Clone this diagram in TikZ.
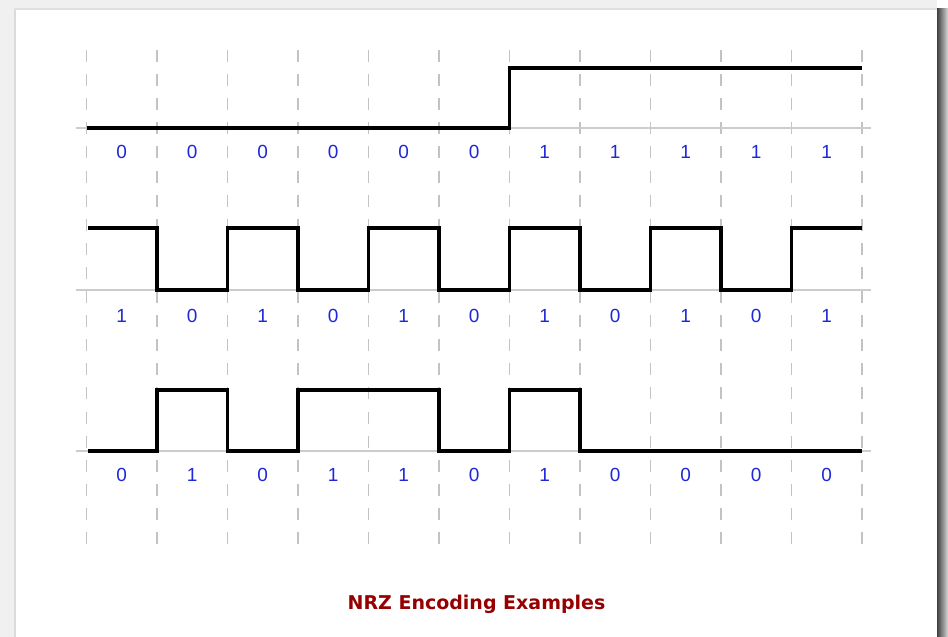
\documentclass[tikz,border=0pt]{standalone}
\usepackage{fontspec}
\setmainfont{Liberation Sans}
\newfontfamily\titlefont{DejaVu Sans}
\definecolor{gridgray}{RGB}{195,195,195}
\definecolor{basegray}{RGB}{204,204,204}
\definecolor{bitblue}{RGB}{30,40,215}
\definecolor{titlered}{RGB}{150,0,0}
\tikzset{
  gridline/.style={gridgray, line width=1.4pt, dash pattern=on 12pt off 12.1pt},
  baseline/.style={basegray, line width=1.5pt},
  signal/.style={black, line width=3.2pt, line join=miter},
  bit/.style={text=bitblue, font=\fontsize{19}{21}\selectfont, inner sep=0pt, anchor=center},
}
\begin{document}
\begin{tikzpicture}[x=1pt,y=-1pt]
\useasboundingbox (0,0) rectangle (948,637);
% page background and panel shadow
\fill[white] (0,0) rectangle (948,637);
\fill[black!6] (0,0) rectangle (937,10);
\fill[black!6] (0,0) rectangle (16,637);
\fill[black!14] (14,8) rectangle (16,637);
\fill[black!12] (14,8) rectangle (937,10);
\shade[left color=black!75, right color=black!15] (937,8) rectangle (948,637);
\fill[white] (16,10) rectangle (937,637);
% vertical dashed grid
\foreach \i in {0,...,11}
  \draw[gridline] ({86.5+70.5*\i},50) -- ({86.5+70.5*\i},545);
% baselines
\foreach \y in {128,290,451}
  \draw[baseline] (76,\y) -- (871,\y);
% signals
\draw[signal] (86.5,128) -- (509.5,128) -- (509.5,68) -- (862,68);
\draw[signal] (88,228) -- (157,228) -- (157,290) -- (227.5,290) -- (227.5,228)
  -- (298,228) -- (298,290) -- (368.5,290) -- (368.5,228) -- (439,228)
  -- (439,290) -- (509.5,290) -- (509.5,228) -- (580,228) -- (580,290)
  -- (650.5,290) -- (650.5,228) -- (721,228) -- (721,290) -- (791.5,290)
  -- (791.5,228) -- (862,228);
\draw[signal] (88,451) -- (157,451) -- (157,390) -- (227.5,390) -- (227.5,451)
  -- (298,451) -- (298,390) -- (439,390) -- (439,451) -- (509.5,451)
  -- (509.5,390) -- (580,390) -- (580,451) -- (862,451);
% bit labels
\foreach \b [count=\i from 0] in {0,0,0,0,0,0,1,1,1,1,1}
  \node[bit] (ra\i) at ({121.75+70.5*\i},152) {\b};
\foreach \b [count=\i from 0] in {1,0,1,0,1,0,1,0,1,0,1}
  \node[bit] (rb\i) at ({121.75+70.5*\i},316) {\b};
\foreach \b [count=\i from 0] in {0,1,0,1,1,0,1,0,0,0,0}
  \node[bit] (rc\i) at ({121.75+70.5*\i},475) {\b};
% title
\node[text=titlered, font=\titlefont\bfseries\fontsize{19}{22}\selectfont, inner sep=0pt] (title) at (476.5,604) {NRZ Encoding Examples};
\end{tikzpicture}
\end{document}
